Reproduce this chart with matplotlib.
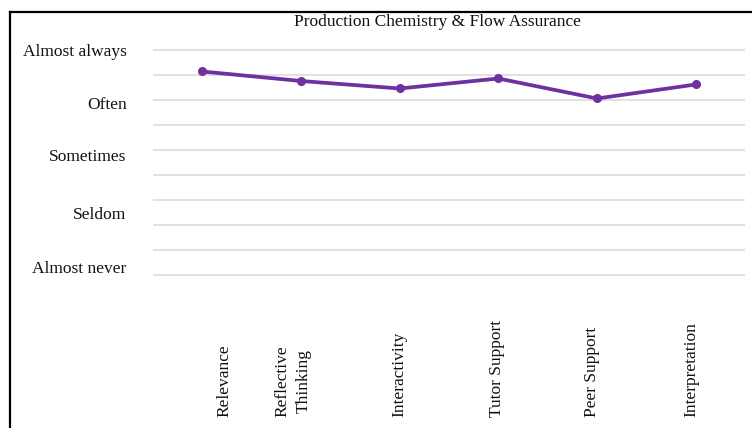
import matplotlib
matplotlib.use("Agg")
import matplotlib.pyplot as plt
from matplotlib.lines import Line2D
from matplotlib.transforms import blended_transform_factory

# Mean response per dimension on a 1 (Almost never) .. 5 (Almost always) scale
categories = ["Relevance", "Reflective\nThinking", "Interactivity",
              "Tutor Support", "Peer Support", "Interpretation"]
scores = [4.57, 4.38, 4.23, 4.43, 4.03, 4.31]

scale_labels = ["Almost always", "Often", "Sometimes", "Seldom", "Almost never"]
scale_label_pos = [5.0, 3.94, 2.9, 1.74, 0.66]
grid_levels = [0.5, 1.0, 1.5, 2.0, 2.5, 3.0, 3.5, 4.0, 4.5, 5.0]
category_label_pos = [0.22, 0.92, 2.0, 2.99, 3.95, 4.96]

title = "Production Chemistry & Flow Assurance"

W, H = 752, 428
fig = plt.figure(figsize=(W / 100, H / 100), dpi=100)
plt.rcParams["font.family"] = ["Liberation Serif", "DejaVu Serif"]
FS = 12.5
TXT = "#111111"

# plot area in pixels
left_px, right_px = 153, 745
top_px, bot_px = 45, 280
ax = fig.add_axes([left_px / W, 1 - bot_px / H,
                   (right_px - left_px) / W, (bot_px - top_px) / H])

x = list(range(len(categories)))
ax.plot(x, scores, color="#7030A0", lw=2.7, marker="o", ms=5.5,
        solid_capstyle="round", zorder=3)

ax.set_xlim(-0.5, len(categories) - 0.5)
ax.set_ylim(0.4, 5.1)

for g in grid_levels:
    ax.axhline(g, color="#d9d9d9", lw=1.1, zorder=1)

for s in ax.spines.values():
    s.set_visible(False)

ax.set_xticks([])
ax.set_yticks(scale_label_pos)
ax.set_yticklabels(scale_labels, fontsize=FS, color=TXT)
ax.tick_params(axis="y", length=0, pad=19)

# rotated category labels, aligned at their starting end
trans = blended_transform_factory(ax.transData, fig.transFigure)
for xp, lab in zip(category_label_pos, categories):
    ax.text(xp, 1 - 417 / H, lab, transform=trans, rotation=90,
            ha="center", va="bottom", fontsize=FS, color=TXT,
            multialignment="center", linespacing=1.5)

fig.text(437.5 / W, 1 - 22 / H, title, ha="center", va="center",
         fontsize=FS, color=TXT)

# frame around the chart (left and top edges)
fig.add_artist(Line2D([10 / W, 10 / W], [0, 1 - 12 / H],
                      transform=fig.transFigure, color="black", lw=1.6))
fig.add_artist(Line2D([10 / W, 1], [1 - 12 / H, 1 - 12 / H],
                      transform=fig.transFigure, color="black", lw=1.6))

fig.savefig("out.png", dpi=100, facecolor="white")
